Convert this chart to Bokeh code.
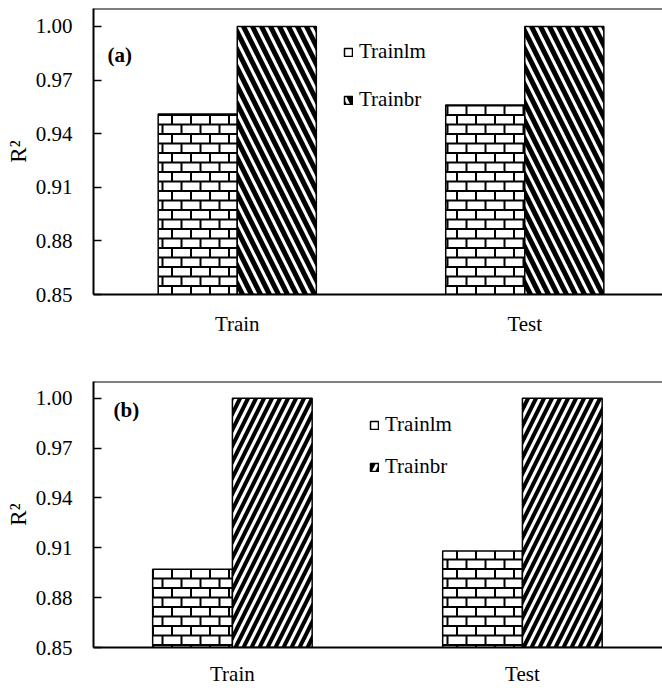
import base64
import numpy as np
from bokeh.plotting import figure
from bokeh.models import (Range1d, FixedTicker, PrintfTickFormatter, Legend, LegendItem,
                          Label, Span, ColumnDataSource, ImageURLTexture)
from bokeh.core.properties import value
from bokeh.layouts import column
from bokeh.transform import dodge
from bokeh.embed import file_html
from bokeh.resources import INLINE

# ---- data ----
categories = ["Train", "Test"]
series_names = ["Trainlm", "Trainbr"]
a_trainlm = [0.951, 0.956]
a_trainbr = [1.000, 1.000]
b_trainlm = [0.897, 0.908]
b_trainbr = [1.000, 1.000]
y_ticks = [0.85, 0.88, 0.91, 0.94, 0.97, 1.00]
panel_names = ["(a)", "(b)"]
y_title = "R²"

FONT = "Liberation Serif"

BRICK_SVG = ("<svg xmlns='http://www.w3.org/2000/svg' width='19' height='19'>"
             "<rect width='19' height='19' fill='white'/>"
             "<path d='M0 1H19M0 10.5H19M1 0V10.5M10.5 10V19' stroke='black' "
             "stroke-width='2' fill='none'/></svg>")
BRICK_URI = "data:image/svg+xml;base64," + base64.b64encode(BRICK_SVG.encode()).decode()


def make_panel(lm, br, name, diag, diag_scale, diag_weight, height, top, bottom,
               x_start, x_end, x_standoff, legend_loc, legend_spacing, name_xy):
    x = np.arange(len(categories)) + 0.5
    src = ColumnDataSource(dict(x=x, lm=lm, br=br))
    p = figure(width=662, height=height, x_range=Range1d(x_start, x_end),
               y_range=Range1d(0.85, 1.01), output_backend="svg",
               toolbar_location=None, min_border_left=93,
               min_border_right=0, min_border_top=top, min_border_bottom=bottom)
    p.outline_line_color = None
    p.xgrid.visible = False
    p.ygrid.visible = False

    bw = 0.275
    r1 = p.vbar(x=dodge("x", -bw / 2), top="lm", bottom=0.85, width=bw, source=src,
                fill_color="white", line_color="black", line_width=1.5,
                hatch_pattern=value("brick"),
                hatch_extra={"brick": ImageURLTexture(url=BRICK_URI)},
                hatch_color="black")
    r2 = p.vbar(x=dodge("x", bw / 2), top="br", bottom=0.85, width=bw, source=src,
                fill_color="white", line_color="black", line_width=1.5,
                hatch_pattern=diag, hatch_color="black", hatch_scale=diag_scale,
                hatch_weight=diag_weight)

    p.add_layout(Span(location=1.01, dimension="width", line_color="black", line_width=2))

    # axes
    p.xaxis.ticker = FixedTicker(ticks=list(x))
    p.xaxis.major_label_overrides = {float(v): c for v, c in zip(x, categories)}
    p.xaxis.major_tick_in = 0
    p.xaxis.major_tick_out = 0
    p.xaxis.minor_tick_line_color = None
    p.xaxis.axis_line_width = 2
    p.xaxis.major_label_standoff = x_standoff
    p.xaxis.major_label_text_font = FONT
    p.xaxis.major_label_text_font_size = "21px"
    p.xaxis.major_label_text_color = "black"

    p.yaxis.ticker = FixedTicker(ticks=y_ticks)
    p.yaxis.formatter = PrintfTickFormatter(format="%.2f")
    p.yaxis.major_tick_in = 8
    p.yaxis.major_tick_out = 0
    p.yaxis.major_tick_line_width = 1.5
    p.yaxis.minor_tick_line_color = None
    p.yaxis.axis_line_width = 2
    p.yaxis.major_label_standoff = 21
    p.yaxis.major_label_text_font = FONT
    p.yaxis.major_label_text_font_size = "21px"
    p.yaxis.major_label_text_color = "black"
    p.yaxis.axis_label = y_title
    p.yaxis.axis_label_text_font = FONT
    p.yaxis.axis_label_text_font_style = "normal"
    p.yaxis.axis_label_text_font_size = "23px"
    p.yaxis.axis_label_text_color = "black"
    p.yaxis.axis_label_standoff = 2

    legend = Legend(items=[LegendItem(label=series_names[0], renderers=[r1]),
                           LegendItem(label=series_names[1], renderers=[r2])],
                    location=legend_loc, padding=0, margin=0, spacing=legend_spacing,
                    glyph_width=10, glyph_height=10, label_standoff=6,
                    label_text_font=FONT, label_text_font_size="21px",
                    label_text_color="black",
                    background_fill_alpha=0, border_line_alpha=0)
    p.add_layout(legend)

    p.add_layout(Label(x=name_xy[0], y=name_xy[1], text=name, text_font=FONT,
                       text_font_style="bold", text_font_size="21px",
                       text_baseline="middle", text_color="black"))
    return p


pa = make_panel(a_trainlm, a_trainbr, panel_names[0], "left_diagonal_line", 18, 5,
                height=340, top=8, bottom=46, x_start=0.0, x_end=1.979, x_standoff=17,
                legend_loc=(250, 182), legend_spacing=23, name_xy=(0.049, 0.984))
pb = make_panel(b_trainlm, b_trainbr, panel_names[1], "right_diagonal_line", 16, 4,
                height=348, top=41, bottom=38, x_start=0.021, x_end=1.983, x_standoff=14,
                legend_loc=(276, 168), legend_spacing=17, name_xy=(0.09, 0.9926))

layout = column(pa, pb, spacing=0)
open("out.html", "w").write(file_html(layout, INLINE))
